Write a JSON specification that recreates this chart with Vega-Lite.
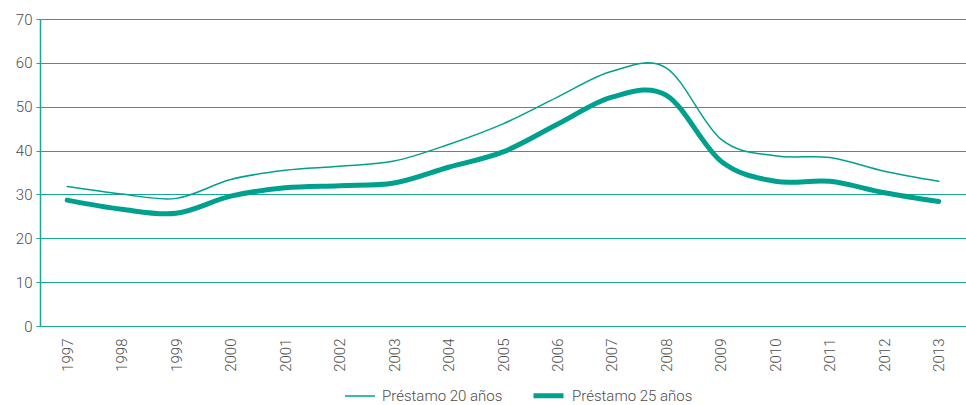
{
  "$schema": "https://vega.github.io/schema/vega-lite/v6.json",
  "width": 926,
  "height": 307,
  "autosize": {"type": "none"},
  "padding": {"left": 40, "top": 19, "right": 0, "bottom": 79},
  "background": "white",
  "config": {
    "view": {"stroke": null},
    "font": "Roboto",
    "axis": {"labelFont": "Roboto", "labelFontWeight": 300, "labelColor": "#4d4d4d"},
    "legend": {"labelFont": "Roboto", "labelFontWeight": 300, "labelColor": "#4d4d4d"}
  },
  "data": {
    "values": [
      {"year": "1997", "serie": "Préstamo 20 años", "value": 31.8},
      {"year": "1998", "serie": "Préstamo 20 años", "value": 30.1},
      {"year": "1999", "serie": "Préstamo 20 años", "value": 29.1},
      {"year": "2000", "serie": "Préstamo 20 años", "value": 33.4},
      {"year": "2001", "serie": "Préstamo 20 años", "value": 35.5},
      {"year": "2002", "serie": "Préstamo 20 años", "value": 36.4},
      {"year": "2003", "serie": "Préstamo 20 años", "value": 37.6},
      {"year": "2004", "serie": "Préstamo 20 años", "value": 41.4},
      {"year": "2005", "serie": "Préstamo 20 años", "value": 46.1},
      {"year": "2006", "serie": "Préstamo 20 años", "value": 52.2},
      {"year": "2007", "serie": "Préstamo 20 años", "value": 58.1},
      {"year": "2008", "serie": "Préstamo 20 años", "value": 58.8},
      {"year": "2009", "serie": "Préstamo 20 años", "value": 42.6},
      {"year": "2010", "serie": "Préstamo 20 años", "value": 38.8},
      {"year": "2011", "serie": "Préstamo 20 años", "value": 38.4},
      {"year": "2012", "serie": "Préstamo 20 años", "value": 35.3},
      {"year": "2013", "serie": "Préstamo 20 años", "value": 33.0},
      {"year": "1997", "serie": "Préstamo 25 años", "value": 28.7},
      {"year": "1998", "serie": "Préstamo 25 años", "value": 26.6},
      {"year": "1999", "serie": "Préstamo 25 años", "value": 25.7},
      {"year": "2000", "serie": "Préstamo 25 años", "value": 29.6},
      {"year": "2001", "serie": "Préstamo 25 años", "value": 31.5},
      {"year": "2002", "serie": "Préstamo 25 años", "value": 32.0},
      {"year": "2003", "serie": "Préstamo 25 años", "value": 32.6},
      {"year": "2004", "serie": "Préstamo 25 años", "value": 36.2},
      {"year": "2005", "serie": "Préstamo 25 años", "value": 39.7},
      {"year": "2006", "serie": "Préstamo 25 años", "value": 46.0},
      {"year": "2007", "serie": "Préstamo 25 años", "value": 52.2},
      {"year": "2008", "serie": "Préstamo 25 años", "value": 52.6},
      {"year": "2009", "serie": "Préstamo 25 años", "value": 37.6},
      {"year": "2010", "serie": "Préstamo 25 años", "value": 33.0},
      {"year": "2011", "serie": "Préstamo 25 años", "value": 33.0},
      {"year": "2012", "serie": "Préstamo 25 años", "value": 30.4},
      {"year": "2013", "serie": "Préstamo 25 años", "value": 28.4}
    ]
  },
  "mark": {"type": "line", "interpolate": "cardinal", "strokeCap": "round"},
  "encoding": {
    "x": {
      "field": "year", "type": "ordinal", "title": null,
      "scale": {"type": "point", "padding": 0.5},
      "axis": {"labelAngle": -90, "labelAlign": "right", "labelBaseline": "middle", "labelPadding": 12, "labelFontSize": 15, "domain": false, "ticks": false, "grid": false}
    },
    "y": {
      "field": "value", "type": "quantitative", "title": null,
      "scale": {"domain": [0, 70]},
      "axis": {"values": [0, 10, 20, 30, 40, 50, 60, 70], "labelFontSize": 15, "labelPadding": 4, "tickSize": 4, "tickColor": "#1aa79b", "domainColor": "#1aa79b", "domainWidth": 1.5, "gridColor": "#1aa79b", "gridWidth": 1.2, "grid": true}
    },
    "color": {
      "field": "serie", "type": "nominal", "title": null,
      "scale": {"range": ["#00a08f", "#00a08f"]},
      "legend": {"orient": "none", "legendX": 304, "legendY": 359, "direction": "horizontal", "symbolType": "stroke", "symbolSize": 900, "labelFontSize": 15, "labelOffset": 6, "columnPadding": 20}
    },
    "strokeWidth": {
      "field": "serie", "type": "nominal", "title": null,
      "scale": {"range": [1.5, 5]},
      "legend": {"orient": "none", "legendX": 304, "legendY": 359, "direction": "horizontal", "symbolType": "stroke", "symbolSize": 900, "labelFontSize": 15, "labelOffset": 6, "columnPadding": 20}
    }
  }
}
